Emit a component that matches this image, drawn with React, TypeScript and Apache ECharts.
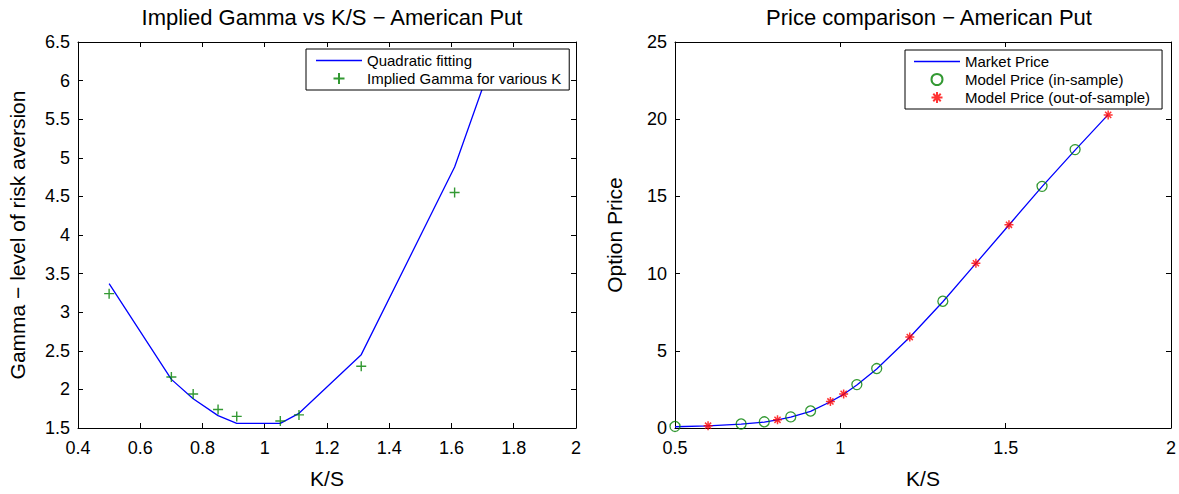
import React, { useEffect, useRef } from 'react';
import * as echarts from 'echarts';

// ---- Data (left panel: implied gamma) ----
const gammaFitK = [0.5, 0.7, 0.77, 0.85, 0.91, 1.05, 1.11, 1.31, 1.61, 1.71];
const gammaFitValues = [3.37, 2.13, 1.88, 1.66, 1.56, 1.56, 1.69, 2.45, 4.88, 6.02];
const impliedGammaK = [0.5, 0.7, 0.77, 0.85, 0.91, 1.05, 1.11, 1.31, 1.61];
const impliedGammaValues = [3.24, 2.16, 1.94, 1.74, 1.65, 1.59, 1.67, 2.3, 4.55];

// ---- Data (right panel: price comparison) ----
const marketK = [0.5, 0.6, 0.7, 0.77, 0.81, 0.85, 0.91, 0.97, 1.01, 1.05, 1.11, 1.21, 1.31, 1.41, 1.51, 1.61, 1.71, 1.81];
const marketPrice = [0.08, 0.14, 0.25, 0.38, 0.52, 0.7, 1.08, 1.7, 2.18, 2.78, 3.82, 5.88, 8.18, 10.66, 13.15, 15.63, 18.0, 20.3];
const inSampleK = [0.5, 0.7, 0.77, 0.85, 0.91, 1.05, 1.11, 1.31, 1.61, 1.71];
const inSamplePrice = [0.1, 0.26, 0.4, 0.72, 1.1, 2.81, 3.85, 8.21, 15.65, 18.03];
const outSampleK = [0.6, 0.81, 0.97, 1.01, 1.21, 1.41, 1.51, 1.81];
const outSamplePrice = [0.15, 0.53, 1.72, 2.21, 5.89, 10.67, 13.16, 20.28];

// ---- Tick definitions ----
const leftXTicks = [0.4, 0.6, 0.8, 1, 1.2, 1.4, 1.6, 1.8, 2];
const leftYTicks = [1.5, 2, 2.5, 3, 3.5, 4, 4.5, 5, 5.5, 6, 6.5];
const rightXTicks = [0.5, 1, 1.5, 2];
const rightYTicks = [0, 5, 10, 15, 20, 25];

const zip = (xs: number[], ys: number[]) => xs.map((x, i) => [x, ys[i]]);

const FONT = '"Liberation Sans", Arial, Helvetica, sans-serif';
const BLUE = '#0000ff';
const GREEN = '#008000';
const RED = '#ff0000';

const PLUS = 'path://M5,0L5,10M0,5L10,5';
const STAR = 'path://M5,0L5,10M0,5L10,5M1.6,1.6L8.4,8.4M8.4,1.6L1.6,8.4';
const LINE_ICON = 'path://M0,0L46,0L46,1.3L0,1.3Z';

function axisRange(ticks: number[]) {
  return { min: ticks[0], max: ticks[ticks.length - 1], interval: ticks[1] - ticks[0] };
}
const fmt = (v: number) => String(Math.round(v * 100) / 100);

const tickLabel = { color: '#000', fontSize: 18, fontFamily: FONT, formatter: fmt };
const line = { show: true, onZero: false, lineStyle: { color: '#000', width: 1 } };
const tick = { show: true, inside: true, length: 5, lineStyle: { color: '#000', width: 1 } };
const nameStyle = { color: '#000', fontSize: 21, fontFamily: FONT };

function mainX(gridIndex: number, ticks: number[]) {
  return {
    type: 'value', gridIndex, ...axisRange(ticks), position: 'bottom',
    name: 'K/S', nameLocation: 'middle', nameGap: 40, nameTextStyle: nameStyle,
    axisLine: line, axisTick: tick, splitLine: { show: false },
    axisLabel: { ...tickLabel, margin: 11 },
  };
}
function mirrorX(gridIndex: number, ticks: number[]) {
  return {
    type: 'value', gridIndex, ...axisRange(ticks), position: 'top',
    axisLine: line, axisTick: tick, splitLine: { show: false }, axisLabel: { show: false },
  };
}
function mainY(gridIndex: number, ticks: number[], name: string, nameGap: number) {
  return {
    type: 'value', gridIndex, ...axisRange(ticks), position: 'left',
    name, nameLocation: 'middle', nameGap, nameTextStyle: nameStyle,
    axisLine: line, axisTick: tick, splitLine: { show: false },
    axisLabel: { ...tickLabel, margin: 8 },
  };
}
function mirrorY(gridIndex: number, ticks: number[]) {
  return {
    type: 'value', gridIndex, ...axisRange(ticks), position: 'right',
    axisLine: line, axisTick: tick, splitLine: { show: false }, axisLabel: { show: false },
  };
}

export default function App() {
  const ref = useRef<HTMLDivElement>(null);
  useEffect(() => {
    document.body.style.margin = '0';
    if (!ref.current) return;
    const chart = echarts.init(ref.current, undefined, { renderer: 'svg' });
    const legendCommon = {
      orient: 'vertical',
      backgroundColor: '#fff',
      borderColor: '#000',
      borderWidth: 1,
      borderRadius: 0,
      itemWidth: 46,
      itemHeight: 11,
      itemGap: 3,
      symbolKeepAspect: true,
      textStyle: { color: '#000', fontSize: 15, fontFamily: FONT },
      selectedMode: false,
    };
    const lineIconItem = (name: string) => ({
      name, icon: LINE_ICON, itemStyle: { color: BLUE, borderWidth: 0 },
    });
    chart.setOption({
      animation: false,
      backgroundColor: '#fff',
      title: [
        {
          text: 'Implied Gamma vs K/S \u2212 American Put',
          left: 327, top: 1, textAlign: 'center',
          textStyle: { color: '#000', fontSize: 22, fontWeight: 'normal', fontFamily: FONT },
        },
        {
          text: 'Price comparison \u2212 American Put',
          left: 924, top: 1, textAlign: 'center',
          textStyle: { color: '#000', fontSize: 22, fontWeight: 'normal', fontFamily: FONT },
        },
      ],
      legend: [
        {
          ...legendCommon,
          left: 306, top: 49, padding: [4, 8, 4, 10],
          data: [lineIconItem('Quadratic fitting'), { name: 'Implied Gamma for various K' }],
        },
        {
          ...legendCommon,
          left: 905, top: 50, padding: [4, 12, 4, 9],
          data: [
            lineIconItem('Market Price'),
            { name: 'Model Price (in-sample)' },
            { name: 'Model Price (out-of-sample)' },
          ],
        },
      ],
      grid: [
        { left: 78, top: 42, width: 498, height: 392, show: false },
        { left: 675, top: 42, width: 498, height: 392, show: false },
      ],
      xAxis: [mainX(0, leftXTicks), mirrorX(0, leftXTicks), mainX(1, rightXTicks), mirrorX(1, rightXTicks)],
      yAxis: [
        mainY(0, leftYTicks, 'Gamma \u2212 level of risk aversion', 50),
        mirrorY(0, leftYTicks),
        mainY(1, rightYTicks, 'Option Price', 50),
        mirrorY(1, rightYTicks),
      ],
      series: [
        {
          name: 'Quadratic fitting', type: 'line', xAxisIndex: 0, yAxisIndex: 0,
          data: zip(gammaFitK, gammaFitValues), symbol: 'none', showSymbol: false,
          lineStyle: { color: BLUE, width: 1.3 }, itemStyle: { color: BLUE }, z: 2,
        },
        {
          name: 'Implied Gamma for various K', type: 'scatter', xAxisIndex: 0, yAxisIndex: 0,
          data: zip(impliedGammaK, impliedGammaValues), symbol: PLUS, symbolSize: 10,
          itemStyle: { color: 'transparent', borderColor: GREEN, borderWidth: 1.4 }, z: 3,
        },
        {
          name: 'Market Price', type: 'line', xAxisIndex: 2, yAxisIndex: 2,
          data: zip(marketK, marketPrice), symbol: 'none', showSymbol: false,
          lineStyle: { color: BLUE, width: 1.3 }, itemStyle: { color: BLUE }, z: 2,
        },
        {
          name: 'Model Price (in-sample)', type: 'scatter', xAxisIndex: 2, yAxisIndex: 2,
          data: zip(inSampleK, inSamplePrice), symbol: 'circle', symbolSize: 10,
          itemStyle: { color: 'transparent', borderColor: GREEN, borderWidth: 1.3 }, z: 3,
        },
        {
          name: 'Model Price (out-of-sample)', type: 'scatter', xAxisIndex: 2, yAxisIndex: 2,
          data: zip(outSampleK, outSamplePrice), symbol: STAR, symbolSize: 9,
          itemStyle: { color: 'transparent', borderColor: RED, borderWidth: 1.5 }, z: 3,
        },
      ],
    });
    return () => chart.dispose();
  }, []);
  return <div ref={ref} style={{ width: 1179, height: 494 }} />;
}
